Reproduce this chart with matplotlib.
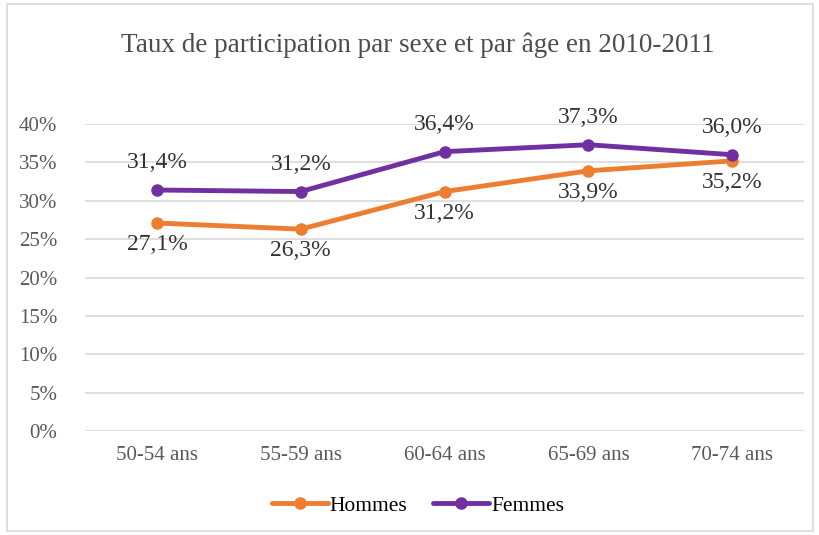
import matplotlib.pyplot as plt
from matplotlib.patches import Rectangle

categories = ["50-54 ans", "55-59 ans", "60-64 ans", "65-69 ans", "70-74 ans"]
hommes = [0.271, 0.263, 0.312, 0.339, 0.352]
femmes = [0.314, 0.312, 0.364, 0.373, 0.360]
yticks = [0, 0.05, 0.10, 0.15, 0.20, 0.25, 0.30, 0.35, 0.40]

orange = "#ED7D31"
purple = "#7030A0"
grey = "#595959"

plt.rcParams["font.family"] = ["Liberation Serif", "DejaVu Serif"]


def pct(v):
    return f"{v * 100:.1f}%".replace(".", ",")


def main():
    fig = plt.figure(figsize=(8.2, 5.35), dpi=100)
    fig.patches.append(Rectangle((0.009, 0.008), 0.982, 0.984, transform=fig.transFigure,
                                 fill=False, edgecolor="#D9D9D9", linewidth=1.2))
    ax = fig.add_axes([0.1037, 0.1944, 0.877, 0.5738])
    x = range(len(categories))

    ax.plot(x, hommes, color=orange, linewidth=3.5, marker="o", markersize=8,
            solid_capstyle="round", label="Hommes", zorder=3)
    ax.plot(x, femmes, color=purple, linewidth=3.5, marker="o", markersize=8,
            solid_capstyle="round", label="Femmes", zorder=3)

    for i, v in enumerate(femmes):
        ax.annotate(pct(v), (i, v), xytext=(0, 12), textcoords="offset points",
                    ha="center", va="bottom", fontsize=17, color="#333333")
    for i, v in enumerate(hommes):
        ax.annotate(pct(v), (i, v), xytext=(0, -8), textcoords="offset points",
                    ha="center", va="top", fontsize=17, color="#333333")

    ax.set_xlim(-0.5, len(categories) - 0.5)
    ax.set_ylim(0, 0.40)
    ax.set_yticks(yticks)
    ax.set_yticklabels([f"{int(round(t * 100))}%" for t in yticks])
    ax.set_xticks(list(x))
    ax.set_xticklabels(categories)
    ax.tick_params(axis="both", length=0, labelsize=15, labelcolor=grey)
    ax.tick_params(axis="y", pad=20)
    ax.tick_params(axis="x", pad=11)
    ax.grid(axis="y", color="#D9D9D9", linewidth=1.2)
    ax.set_axisbelow(True)
    for s in ax.spines.values():
        s.set_visible(False)

    fig.text(0.51, 0.915, "Taux de participation par sexe et par âge en 2010-2011",
             ha="center", va="center", fontsize=19.5, color="#4d4d4d")

    fig.legend(loc="center", bbox_to_anchor=(0.51, 0.055), ncol=2, frameon=False,
               fontsize=15.5, handlelength=2.6, columnspacing=1.2, handletextpad=0.1)

    fig.savefig("out.png", dpi=100)


if __name__ == "__main__":
    main()
